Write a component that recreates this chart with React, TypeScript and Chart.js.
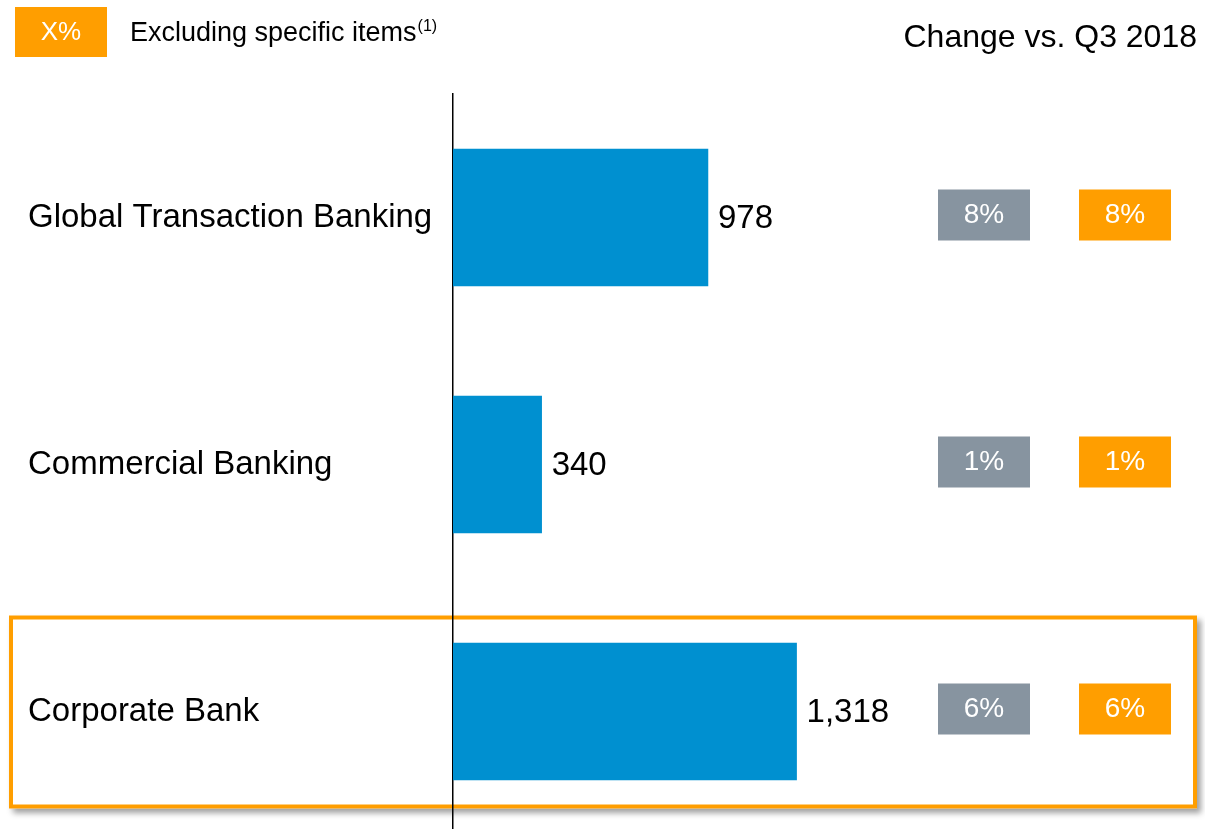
import { useEffect, useRef } from "react";
import { Chart, registerables } from "chart.js";

Chart.register(...registerables);

const categories = ["Global Transaction Banking", "Commercial Banking", "Corporate Bank"];
const revenues = [978, 340, 1318];
const changeReported = ["8%", "1%", "6%"];
const changeExSpecific = ["8%", "1%", "6%"];
const highlightIndex = 2;
const legendSample = "X%";
const legendText = "Excluding specific items";
const legendNote = "(1)";
const headerText = "Change vs. Q3 2018";
const valueFormat = (v: number) => v.toLocaleString("en-US");

const FONT = '"Liberation Sans", Arial, sans-serif';
const BLUE = "#0090D0";
const ORANGE = "#FF9E00";
const GREY = "#8794A0";

const decorPlugin = {
  id: "decor",
  beforeDraw(chart: any) {
    const ctx = chart.ctx;
    const y = chart.scales.y;
    const yc = y.getPixelForValue(highlightIndex);
    const top = yc - 96;
    const h = 193;
    ctx.save();
    ctx.shadowColor = "rgba(0,0,0,0.38)";
    ctx.shadowBlur = 6;
    ctx.shadowOffsetX = 4;
    ctx.shadowOffsetY = 4;
    ctx.fillStyle = "#ffffff";
    ctx.fillRect(9, top, 1188, h);
    ctx.restore();
    ctx.save();
    ctx.strokeStyle = ORANGE;
    ctx.lineWidth = 4;
    ctx.strokeRect(11, top + 2, 1184, h - 4);
    ctx.restore();
  },
  afterDatasetsDraw(chart: any) {
    const ctx = chart.ctx;
    const meta = chart.getDatasetMeta(0);
    ctx.save();
    meta.data.forEach((el: any, i: number) => {
      ctx.fillStyle = "#000";
      ctx.font = `33px ${FONT}`;
      ctx.textAlign = "left";
      ctx.textBaseline = "middle";
      ctx.fillText(valueFormat(revenues[i]), el.x + 10, el.y + 1);

      const bt = el.y - 28;
      ctx.fillStyle = GREY;
      ctx.fillRect(938, bt, 92, 51);
      ctx.fillStyle = ORANGE;
      ctx.fillRect(1079, bt, 92, 51);
      ctx.fillStyle = "#fff";
      ctx.font = `28px ${FONT}`;
      ctx.textAlign = "center";
      ctx.fillText(changeReported[i], 938 + 46, bt + 26);
      ctx.fillText(changeExSpecific[i], 1079 + 46, bt + 26);
    });
    ctx.restore();
  },
  afterDraw(chart: any) {
    const ctx = chart.ctx;
    ctx.save();
    ctx.fillStyle = ORANGE;
    ctx.fillRect(15, 7, 92, 50);
    ctx.fillStyle = "#fff";
    ctx.font = `26px ${FONT}`;
    ctx.textAlign = "center";
    ctx.textBaseline = "middle";
    ctx.fillText(legendSample, 61, 33);

    ctx.fillStyle = "#000";
    ctx.textAlign = "left";
    ctx.textBaseline = "alphabetic";
    ctx.font = `27px ${FONT}`;
    ctx.fillText(legendText, 130, 41);
    const w = ctx.measureText(legendText).width;
    ctx.font = `16px ${FONT}`;
    ctx.fillText(legendNote, 130 + w + 1, 31);

    ctx.font = `32px ${FONT}`;
    ctx.textAlign = "right";
    ctx.fillText(headerText, 1197, 47);
    ctx.restore();
  },
};

export default function App() {
  const ref = useRef<HTMLCanvasElement | null>(null);
  useEffect(() => {
    document.body.style.overflow = "hidden";
    const chart = new Chart(ref.current as HTMLCanvasElement, {
      type: "bar",
      data: {
        labels: categories,
        datasets: [
          {
            data: revenues,
            backgroundColor: BLUE,
            borderWidth: 0,
            barThickness: 137,
          },
        ],
      },
      options: {
        indexAxis: "y",
        animation: false,
        responsive: false,
        devicePixelRatio: 1,
        layout: { padding: { top: 94, left: 28, right: 361, bottom: 0 } },
        plugins: { legend: { display: false }, tooltip: { enabled: false } },
        scales: {
          x: { display: false, min: 0, max: 1500 },
          y: {
            grid: { display: false },
            border: { display: true, color: "#000", width: 1.5 },
            ticks: {
              crossAlign: "far",
              padding: 0,
              color: "#000",
              font: { family: FONT, size: 33 },
            },
            afterFit(scale: any) {
              scale.width = 425;
              scale.paddingTop = 0;
              scale.paddingBottom = 0;
            },
          },
        },
      },
      plugins: [decorPlugin],
    } as any);
    return () => chart.destroy();
  }, []);
  return (
    <div style={{ position: "fixed", left: 0, top: 0, width: 1205, height: 835, background: "#fff" }}>
      <canvas ref={ref} width={1205} height={835} style={{ display: "block" }} />
    </div>
  );
}
